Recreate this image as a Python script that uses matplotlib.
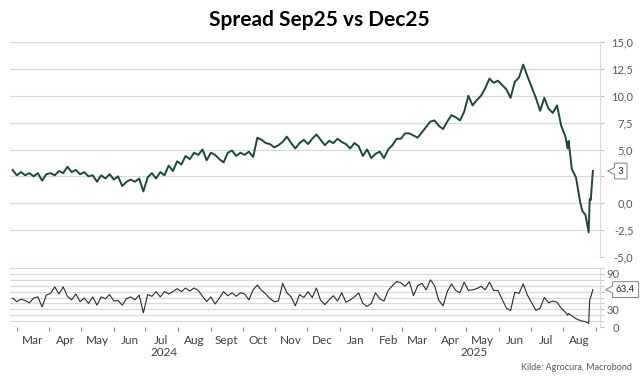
import matplotlib
matplotlib.use("Agg")
import matplotlib.pyplot as plt
import matplotlib.dates as mdates
from matplotlib.path import Path
from matplotlib.ticker import FixedLocator, FixedFormatter, MultipleLocator
import pandas as pd

plt.rcParams['font.family'] = ['Lato', 'DejaVu Sans']

# ---- data -------------------------------------------------------------
title = "Spread Sep25 vs Dec25"
source = "Kilde: Agrocura, Macrobond"

# 4-day grid for the bulk of the series, then the August tail
grid_start, grid_end = "2024-02-26", "2025-07-30"
tail_dates = ["2025-08-03", "2025-08-05", "2025-08-06", "2025-08-09", "2025-08-13",
              "2025-08-17", "2025-08-19", "2025-08-22", "2025-08-25", "2025-08-26",
              "2025-08-27", "2025-08-29"]

spread_main = [
    3.1, 2.6, 2.9, 2.6, 2.8, 2.5, 2.8, 2.1, 2.7, 2.8,
    2.6, 3.0, 2.8, 3.4, 2.9, 3.1, 2.7, 2.9, 2.5, 2.6,
    2.0, 2.6, 2.3, 2.7, 2.2, 2.5, 1.6, 2.0, 2.2, 2.0,
    2.3, 1.1, 2.4, 2.8, 2.3, 2.9, 2.6, 3.5, 3.0, 3.9,
    3.6, 4.4, 4.1, 4.7, 4.5, 5.0, 4.0, 4.7, 4.5, 4.1,
    3.8, 4.7, 4.9, 4.4, 4.7, 4.5, 4.8, 4.3, 6.1, 5.9,
    5.6, 5.5, 5.2, 5.4, 5.7, 6.2, 5.6, 5.1, 5.6, 5.9,
    5.5, 6.0, 6.4, 5.9, 5.4, 5.8, 5.6, 6.0, 5.7, 5.5,
    5.1, 5.6, 5.3, 4.4, 5.0, 4.2, 4.6, 4.8, 4.2, 5.0,
    5.4, 6.0, 6.0, 6.5, 6.5, 6.3, 6.1, 6.6, 7.1, 7.6,
    7.7, 7.2, 6.9, 7.6, 8.2, 8.0, 7.7, 8.5, 10.0, 9.1,
    9.6, 10.0, 10.7, 11.6, 11.2, 11.4, 11.0, 10.6, 9.8, 11.3,
    11.7, 12.9, 11.8, 10.8, 9.8, 8.6, 9.8, 8.8, 8.4, 9.1,
    7.2,
]
spread_tail = [6.2, 5.1, 5.8, 3.2, 2.4, 0.1, -0.7, -1.1, -2.7, 0.4, 0.3, 3.0]

rsi_main = [
    49, 43, 47, 45, 41, 49, 51, 34, 54, 57,
    68, 56, 68, 52, 46, 56, 43, 49, 40, 51,
    37, 51, 48, 55, 44, 45, 37, 48, 51, 46,
    54, 24, 55, 52, 60, 51, 60, 56, 60, 65,
    60, 66, 61, 66, 62, 52, 43, 51, 39, 49,
    60, 53, 58, 52, 58, 56, 46, 63, 71, 62,
    56, 48, 43, 44, 74, 58, 51, 36, 55, 50,
    60, 50, 66, 45, 38, 46, 53, 44, 58, 42,
    46, 51, 58, 40, 35, 40, 58, 48, 44, 62,
    70, 77, 75, 69, 77, 53, 70, 74, 63, 80,
    70, 45, 36, 60, 73, 62, 58, 76, 62, 63,
    65, 69, 63, 76, 62, 62, 47, 32, 28, 59,
    57, 73, 54, 41, 28, 32, 50, 41, 44, 42,
    32,
]
rsi_tail = [25, 20, 23, 19, 14, 11, 10, 9, 6, 46, 51, 63.4]

last_labels = ["3", "63,4"]

month_labels = ["Mar", "Apr", "May", "Jun", "Jul", "Aug", "Sept", "Oct", "Nov",
                "Dec", "Jan", "Feb", "Mar", "Apr", "May", "Jun", "Jul", "Aug"]
year_labels = ["2024", "2025"]
year_pos = ["2024-07-19", "2025-05-08"]

# labels hidden behind the last-value boxes are left blank
top_ticks = [-5, -2.5, 0, 2.5, 5, 7.5, 10, 12.5, 15]
top_ticklabels = ["-5,0", "-2,5", "0,0", "", "5,0", "7,5", "10,0", "12,5", "15,0"]
bot_ticks = [0, 30, 60, 90]
bot_ticklabels = ["0", "30", "", "90"]

# ---- build series -----------------------------------------------------
dates = list(pd.date_range(grid_start, grid_end, freq="4D")) + list(pd.to_datetime(tail_dates))
spread = spread_main + spread_tail
rsi = rsi_main + rsi_tail

GRID = "#d9d9d9"
TXT = "#595959"
GREEN = "#1b4a3a"


class Callout:
    """rectangle with a small notch pointing left"""
    def __init__(self, pad=0.35, notch=7):
        self.pad = pad
        self.notch = notch

    def __call__(self, x0, y0, width, height, mutation_size):
        p = mutation_size * self.pad
        x0, y0 = x0 - p, y0 - p
        x1, y1 = x0 + width + 2 * p, y0 + height + 2 * p
        ym = (y0 + y1) / 2
        h = y1 - y0
        verts = [(x0, y0), (x1, y0), (x1, y1), (x0, y1),
                 (x0, ym + h * 0.22), (x0 - self.notch, ym), (x0, ym - h * 0.22), (x0, y0)]
        return Path(verts, closed=True)


fig = plt.figure(figsize=(6.41, 3.83), dpi=100)
W, H = 641, 383
ax1 = fig.add_axes([10 / W, 1 - 257 / H, 590 / W, 215 / H])
ax2 = fig.add_axes([10 / W, 1 - 327 / H, 590 / W, 59 / H], sharex=ax1)

ax1.plot(dates, spread, color=GREEN, lw=1.4, zorder=3)
ax2.plot(dates, rsi, color="#2b2b2b", lw=0.8, zorder=3)

xmin, xmax = pd.Timestamp("2024-02-23 14:00"), pd.Timestamp("2025-09-04 18:00")
ax1.set_xlim(xmin, xmax)

# top panel
ax1.set_ylim(-5, 15)
ax1.yaxis.tick_right()
ax1.yaxis.set_major_locator(FixedLocator(top_ticks))
ax1.yaxis.set_major_formatter(FixedFormatter(top_ticklabels))
ax1.tick_params(axis="y", length=3, color="#bfbfbf", labelcolor=TXT, labelsize=8, pad=21)
for lab in ax1.get_yticklabels():
    lab.set_horizontalalignment("right")
ax1.tick_params(axis="x", which="both", bottom=False, labelbottom=False)
ax1.grid(axis="y", color=GRID, lw=0.9)

# bottom panel
ax2.set_ylim(0, 100)
ax2.yaxis.tick_right()
ax2.yaxis.set_major_locator(FixedLocator(bot_ticks))
ax2.yaxis.set_major_formatter(FixedFormatter(bot_ticklabels))
ax2.yaxis.set_minor_locator(MultipleLocator(10))
ax2.tick_params(axis="y", which="both", length=3, color="#bfbfbf", labelcolor=TXT, labelsize=8, pad=11)
for lab in ax2.get_yticklabels():
    lab.set_horizontalalignment("right")
ax2.grid(axis="y", which="both", color=GRID, lw=0.9)

month_starts = pd.date_range("2024-03-01", periods=len(month_labels) + 1, freq="MS")
month_mid = month_starts[:-1] + pd.Timedelta(days=15)
ax2.xaxis.set_major_locator(FixedLocator(mdates.date2num(month_starts)))
ax2.xaxis.set_major_formatter(FixedFormatter([""] * len(month_starts)))
ax2.xaxis.set_minor_locator(FixedLocator(mdates.date2num(month_mid)))
ax2.xaxis.set_minor_formatter(FixedFormatter(month_labels))
ax2.tick_params(axis="x", which="major", length=3, color="#8c8c8c")
ax2.tick_params(axis="x", which="minor", length=0, pad=6, labelsize=8.5, labelcolor="#404040")

for ax in (ax1, ax2):
    for s in ("top", "left", "bottom"):
        ax.spines[s].set_visible(False)
    ax.spines["right"].set_color(GRID)
    ax.set_facecolor("none")

for lab, d in zip(year_labels, year_pos):
    ax2.text(pd.Timestamp(d), -0.44, lab, transform=ax2.get_xaxis_transform(),
             ha="center", va="center", fontsize=8.5, color="#404040")

# last-value callouts
for ax, vals, lab, dx in ((ax1, spread, last_labels[0], 18), (ax2, rsi, last_labels[1], 16)):
    ax.annotate(lab, xy=(1, vals[-1]), xycoords=ax.get_yaxis_transform(),
                xytext=(dx, 0), textcoords="offset pixels", ha="left", va="center",
                fontsize=7, color="#262626", annotation_clip=False, zorder=10,
                bbox=dict(boxstyle=Callout(), fc="white", ec="#7f7f7f", lw=0.7))

fig.text(319 / W, 1 - 20 / H, title, ha="center", va="center", fontsize=15, fontweight="bold")
fig.text(632 / W, 1 - 368 / H, source, ha="right", va="center", fontsize=6.5, color=TXT)

fig.savefig("out.png", dpi=100)
